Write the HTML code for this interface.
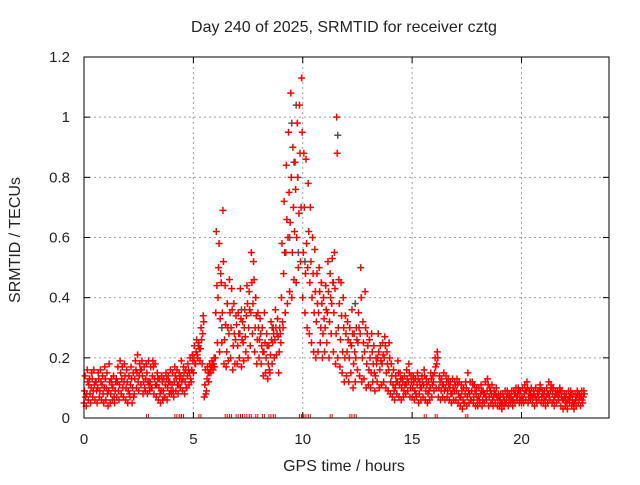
<!DOCTYPE html>
<html><head><meta charset="utf-8"><style>
html,body{margin:0;padding:0;background:#fff;}
svg text{font-family:"Liberation Sans",sans-serif;fill:#222;}
</style></head><body>
<svg id="chart" width="640" height="480" viewBox="0 0 640 480" xmlns="http://www.w3.org/2000/svg">
<rect x="0" y="0" width="640" height="480" fill="#fff"/>
<text x="344" y="32" font-size="16" text-anchor="middle">Day 240 of 2025, SRMTID for receiver cztg</text>
<text x="344" y="471" font-size="16" text-anchor="middle">GPS time / hours</text>
<text x="20" y="240" font-size="16" text-anchor="middle" transform="rotate(-90 20 240)">SRMTID / TECUs</text>
<g id="grid"></g><g id="ticks"></g><g id="gray"></g><g id="red"></g>
<rect x="84" y="57" width="525" height="361" fill="none" stroke="#000" stroke-width="1"/>
</svg>
<script>
const xTicks=[0,5,10,15,20];
const yTicks=[0,0.2,0.4,0.6,0.8,1,1.2];
const yTickLabels=["0","0.2","0.4","0.6","0.8","1","1.2"];
const t0=0, dt=0.1;
const srmtidA=[.05,.04,.06,.05,.07,.06,.05,.07,.06,.05,.06,.04,.05,.06,.05,.07,.06,.08,.07,.06,.05,.07,.05,.08,.10,.09,.11,.08,.09,.08,.09,.10,.08,.07,.06,.05,.06,.07,.06,.08,.08,.07,.09,.08,.10,.09,.08,.10,.11,.12,.15,.18,.20,.19,.18,.07,.09,.12,.15,.16,.20,.25,.22,.25,.18,.17,.19,.20,.16,.18,.18,.20,.17,.19,.22,.20,.24,.28,.22,.18,.20,.18,.14,.15,.13,.15,.18,.20,.21,.15,.25,.30,.35,.38,.42,.40,.46,.45,.50,.52,.40,.35,.30,.28,.25,.22,.20,.22,.25,.20,.22,.25,.20,.28,.22,.18,.20,.17,.15,.12,.14,.12,.15,.10,.12,.16,.14,.12,.13,.10,.11,.10,.12,.09,.12,.10,.11,.12,.10,.09,.08,.07,.06,.08,.07,.06,.07,.08,.09,.07,.07,.06,.07,.05,.06,.07,.06,.05,.06,.07,.09,.10,.07,.06,.07,.06,.07,.06,.05,.06,.06,.05,.04,.03,.05,.04,.05,.06,.05,.04,.04,.05,.04,.05,.06,.04,.05,.04,.05,.04,.04,.03,.04,.05,.04,.05,.04,.05,.06,.05,.05,.05,.06,.05,.06,.05,.04,.05,.06,.05,.05,.04,.05,.06,.05,.04,.05,.06,.04,.03,.04,.03,.05,.04,.03,.04,.05,.04,.05];
const srmtidB=[.09,.08,.11,.10,.09,.12,.10,.09,.11,.10,.10,.09,.08,.10,.09,.12,.11,.13,.12,.10,.09,.11,.10,.13,.15,.14,.16,.12,.13,.12,.12,.14,.13,.11,.10,.09,.09,.11,.10,.12,.11,.12,.13,.11,.14,.13,.12,.14,.15,.16,.20,.22,.24,.23,.28,.11,.13,.15,.17,.18,.35,.40,.33,.35,.26,.22,.28,.30,.24,.26,.24,.28,.26,.30,.34,.30,.35,.38,.30,.26,.26,.24,.22,.20,.18,.21,.25,.26,.28,.22,.40,.48,.55,.60,.65,.55,.62,.60,.68,.70,.55,.48,.50,.45,.40,.35,.32,.35,.30,.28,.30,.35,.32,.38,.35,.28,.30,.26,.22,.20,.22,.20,.24,.18,.20,.25,.28,.20,.22,.18,.16,.15,.18,.14,.20,.16,.18,.20,.15,.16,.12,.11,.10,.12,.11,.10,.09,.11,.12,.10,.10,.09,.11,.08,.10,.11,.09,.08,.10,.11,.15,.18,.10,.09,.11,.10,.09,.10,.08,.09,.09,.08,.07,.06,.08,.07,.08,.09,.07,.08,.07,.08,.06,.08,.09,.07,.08,.07,.08,.06,.06,.05,.06,.07,.06,.07,.06,.08,.08,.07,.07,.08,.09,.07,.08,.07,.07,.08,.09,.07,.07,.07,.08,.09,.08,.07,.08,.08,.07,.06,.06,.06,.07,.06,.05,.07,.06,.07,.07];
const srmtidC=[.14,.16,.13,.15,.16,.12,.15,.16,.14,.17,.15,.18,.13,.14,.12,.17,.19,.17,.18,.16,.14,.17,.15,.19,.21,.18,.19,.17,.18,.19,.17,.19,.18,.15,.13,.14,.13,.15,.14,.16,.15,.17,.16,.15,.19,.17,.16,.18,.20,.21,.24,.26,.25,.30,.34,.16,.17,.18,.19,.20,.62,.50,.48,.69,.44,.38,.46,.43,.38,.34,.35,.43,.32,.36,.44,.42,.55,.52,.40,.35,.33,.30,.35,.28,.24,.32,.30,.36,.33,.30,.58,.72,.84,.95,1.08,.90,.85,.98,1.04,1.13,.88,.86,.78,.70,.60,.56,.48,.50,.45,.40,.44,.52,.48,.53,.55,1.00,.46,.45,.40,.34,.32,.30,.36,.28,.30,.35,.50,.32,.42,.28,.26,.28,.24,.20,.28,.24,.25,.27,.22,.25,.18,.16,.14,.19,.15,.13,.14,.16,.18,.14,.14,.13,.15,.12,.14,.16,.13,.12,.15,.14,.20,.22,.14,.13,.15,.14,.13,.12,.13,.12,.13,.12,.11,.10,.12,.15,.12,.12,.11,.10,.10,.11,.09,.12,.13,.10,.11,.09,.10,.08,.08,.08,.09,.09,.08,.09,.09,.10,.10,.09,.10,.11,.12,.09,.10,.09,.10,.09,.11,.09,.09,.10,.12,.11,.10,.09,.09,.10,.09,.08,.08,.09,.09,.08,.08,.09,.08,.09,.09];
const srmtidD=[.07,.12,.08,.13,.11,.09,.13,.12,.08,.13,.08,.12,.11,.07,.13,.09,.15,.10,.14,.12,.08,.13,.07,.16,.12,.16,.14,.10,.15,.11,.10,.17,.11,.13,.08,.12,.07,.13,.12,.09,.09,.14,.11,.13,.12,.15,.10,.16,.13,.19,.18,.21,.23,.26,.32,.08,.15,.16,.18,.17,.44,.58,.45,.52,.31,.30,.35,.36,.28,.31,.28,.33,.25,.27,.38,.36,.45,.46,.34,.30,.28,.22,.25,.24,.16,.26,.28,.30,.27,.28,.32,.55,.66,.75,.80,.70,.76,.80,.88,.95,.70,.58,.62,.52,.48,.42,.38,.42,.38,.33,.36,.42,.40,.45,.43,.88,.38,.34,.30,.28,.26,.25,.28,.22,.26,.30,.40,.25,.30,.24,.20,.22,.15,.18,.22,.19,.21,.24,.18,.20,.14,.09,.12,.15,.13,.12,.11,.13,.15,.12,.12,.08,.13,.10,.12,.14,.11,.09,.13,.12,.17,.20,.12,.11,.09,.12,.11,.08,.10,.11,.11,.07,.09,.05,.10,.09,.06,.11,.09,.06,.06,.09,.08,.07,.11,.09,.06,.08,.07,.07,.05,.07,.05,.08,.07,.06,.08,.07,.09,.06,.06,.09,.10,.08,.07,.08,.06,.07,.10,.08,.06,.08,.07,.10,.06,.08,.07,.09,.06,.07,.05,.07,.08,.05,.06,.08,.07,.06,.08];
const grayTimes=[6.3,7.2,8.6,9.4,9.5,9.6,9.7,9.8,10.1,11.4,11.6,12.4,5.0,3.0];
const grayValues=[.30,.36,.30,.60,.98,.85,1.04,.55,.52,.45,.94,.38,.15,.12];
const zeroTimes=[2.9,4.2,4.4,4.5,5.3,6.5,6.7,7.0,7.2,7.4,7.6,7.9,8.2,8.5,8.7,9.9,10.1,10.3,11.3,12.2,12.4,15.6,16.1,17.5];

const X=v=>84+v*(525/24);
const Y=v=>418-v*(361/1.2);
const NS="http://www.w3.org/2000/svg";
function mk(tag,attrs,parent){const e=document.createElementNS(NS,tag);for(const k in attrs)e.setAttribute(k,attrs[k]);parent.appendChild(e);return e;}
const grid=document.getElementById('grid'),ticks=document.getElementById('ticks');
xTicks.forEach(v=>{
  const x=X(v);
  if(v>0){const g=mk('line',{x1:x,y1:57,x2:x,y2:418,stroke:'#a0a0a0','stroke-dasharray':'2,3'},grid);
  
  }
  mk('line',{x1:x,y1:418,x2:x,y2:412,stroke:'#000'},ticks);
  mk('line',{x1:x,y1:57,x2:x,y2:63,stroke:'#000'},ticks);
  const t=mk('text',{x:x,y:444,'font-size':15,'text-anchor':'middle'},ticks);t.textContent=String(v);
  
  
});
yTicks.forEach((v,i)=>{
  const y=Y(v);
  if(v>0&&v<1.2){const g=mk('line',{x1:84,y1:y,x2:609,y2:y,stroke:'#a0a0a0','stroke-dasharray':'2,3'},grid);
  
  }
  mk('line',{x1:84,y1:y,x2:90,y2:y,stroke:'#000'},ticks);
  mk('line',{x1:609,y1:y,x2:603,y2:y,stroke:'#000'},ticks);
  const t=mk('text',{x:70,y:y+5,'font-size':15,'text-anchor':'end'},ticks);t.textContent=yTickLabels[i];
  
  
});
function plus(g,x,y,c,name){const p=mk('path',{d:`M${x-3.5},${y}h7M${x},${y-3.5}v7`,stroke:c,'stroke-width':1.5,fill:'none'},g);
  
  }
const gray=document.getElementById('gray'),red=document.getElementById('red');
grayTimes.forEach((t,i)=>plus(gray,X(t),Y(grayValues[i]),'#505050','gray-point'));
[srmtidA,srmtidB,srmtidC,srmtidD].forEach((arr,k)=>{
  arr.forEach((v,i)=>plus(red,X(t0+i*dt+k*dt/4),Y(v),'#ff0000','red-point'));
});
zeroTimes.forEach(t=>{const l=mk('path',{d:`M${X(t)-1},414v4M${X(t)+1},414v4`,stroke:'#ff0000','stroke-width':1},red);
  
  });
</script>
</body></html>
